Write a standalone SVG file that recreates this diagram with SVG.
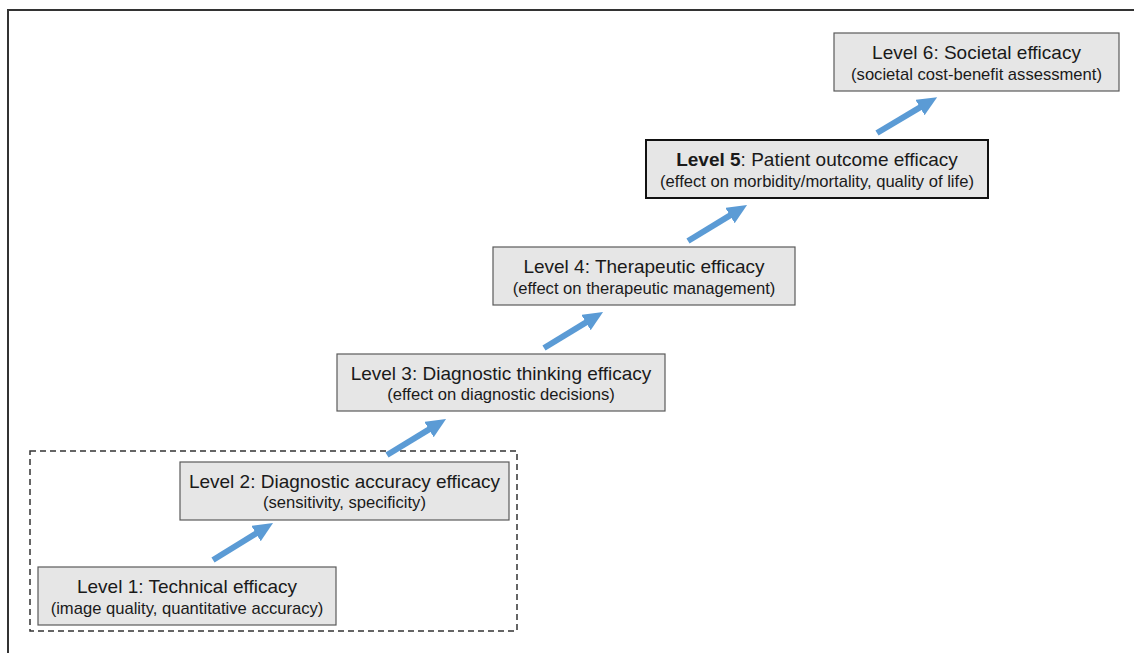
<svg xmlns="http://www.w3.org/2000/svg" width="1134" height="653" viewBox="0 0 1134 653">
<style>
.box{fill:#e6e6e6;stroke:#5a5a5a;stroke-width:1.2}
.box5{fill:#e6e6e6;stroke:#111;stroke-width:2}
.t{font-family:"Liberation Sans",Arial,sans-serif;font-size:19px;fill:#1a1a1a;text-anchor:middle}
.s{font-family:"Liberation Sans",Arial,sans-serif;font-size:16.6px;fill:#1a1a1a;text-anchor:middle}
.arr{stroke:#5b9bd5;stroke-width:6;fill:none;marker-end:url(#ah)}
</style>
<defs>
<marker id="ah" markerUnits="userSpaceOnUse" markerWidth="22" markerHeight="20" refX="4" refY="9" orient="auto">
<path d="M0,0 L20,9 L0,18 z" fill="#5b9bd5"/>
</marker>
</defs>
<rect x="0" y="0" width="1134" height="653" fill="#fff"/>
<path d="M8,653 V10 H1134" fill="none" stroke="#333" stroke-width="2"/>
<rect id="group-1-2" x="30" y="451" width="487" height="180" fill="none" stroke="#333" stroke-width="1.5" stroke-dasharray="6,4"/>
<g id="connectors">
<line class="arr" x1="213" y1="560" x2="259.4" y2="531.4"/>
<line class="arr" x1="387" y1="455" x2="432.4" y2="427.4"/>
<line class="arr" x1="544" y1="348" x2="589.4" y2="320.4"/>
<line class="arr" x1="688" y1="241" x2="733.4" y2="213.4"/>
<line class="arr" x1="877" y1="133" x2="923.4" y2="105.4"/>
</g>
<g id="level1">
<rect class="box" x="38" y="567" width="298" height="58"/>
<text class="t" x="187" y="593">Level 1: Technical efficacy</text>
<text class="s" x="187" y="614">(image quality, quantitative accuracy)</text>
</g>
<g id="level2">
<rect class="box" x="180" y="462" width="329" height="58"/>
<text class="t" x="344.5" y="488">Level 2: Diagnostic accuracy efficacy</text>
<text class="s" x="344.5" y="508">(sensitivity, specificity)</text>
</g>
<g id="level3">
<rect class="box" x="337" y="354" width="328" height="57"/>
<text class="t" x="501" y="380">Level 3: Diagnostic thinking efficacy</text>
<text class="s" x="501" y="400">(effect on diagnostic decisions)</text>
</g>
<g id="level4">
<rect class="box" x="493" y="247" width="302" height="58"/>
<text class="t" x="644" y="273">Level 4: Therapeutic efficacy</text>
<text class="s" x="644" y="294">(effect on therapeutic management)</text>
</g>
<g id="level5">
<rect class="box5" x="646" y="140" width="342" height="58"/>
<text class="t" x="817" y="166"><tspan font-weight="bold">Level 5</tspan>: Patient outcome efficacy</text>
<text class="s" x="817" y="187">(effect on morbidity/mortality, quality of life)</text>
</g>
<g id="level6">
<rect class="box" x="834" y="33" width="285" height="58"/>
<text class="t" x="976.5" y="59">Level 6: Societal efficacy</text>
<text class="s" x="976.5" y="80">(societal cost-benefit assessment)</text>
</g>
</svg>
